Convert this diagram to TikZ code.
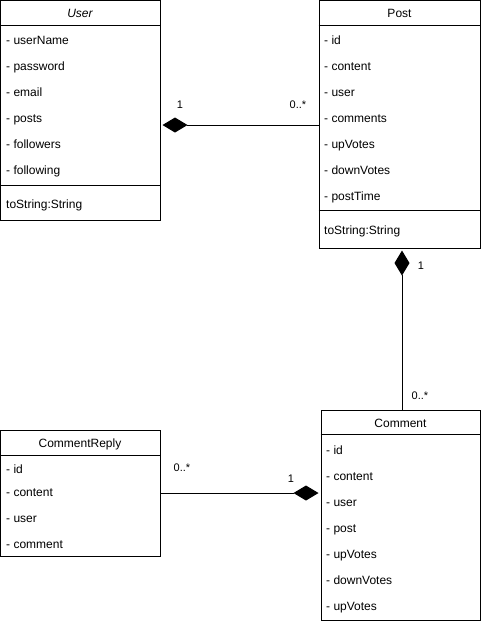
\documentclass[tikz,border=0pt]{standalone}
\usepackage{fontspec}
\setmainfont{Liberation Sans}
\usetikzlibrary{arrows.meta}
\begin{document}
\begin{tikzpicture}[x=1pt,y=-1pt,
  classbox/.style={draw=black, line width=1pt, inner sep=0pt, rectangle},
  attr/.style={anchor=base west, inner sep=0pt, font=\fontsize{12}{14}\selectfont},
  head/.style={anchor=base, inner sep=0pt, font=\fontsize{12}{14}\selectfont},
  mult/.style={anchor=base, inner sep=0pt, font=\fontsize{11}{13}\selectfont},
  comp/.style={draw=black, line width=1pt, -{Diamond[length=25pt,width=15pt,fill=black]}, shorten >=2pt}]
\useasboundingbox (0,0) rectangle (481,622);
% User
\node[classbox, minimum width=160pt, minimum height=220pt] (user) at (80,110) {};
\draw[line width=1pt] ([yshift=-26pt]user.north west) -- ([yshift=-26pt]user.north east);
\draw[line width=1pt] ([yshift=-186pt]user.north west) -- ([yshift=-186pt]user.north east);
\node[head, font=\fontsize{12}{14}\selectfont\itshape] (userh) at (80,17.5) {User};
\node[attr] (u1) at (6,44.5) {- userName};
\node[attr] (u2) at (6,70.5) {- password};
\node[attr] (u3) at (6,96) {- email};
\node[attr] (u4) at (6,122) {- posts};
\node[attr] (u5) at (6,148.5) {- followers};
\node[attr] (u6) at (6,174.5) {- following};
\node[attr] (u7) at (6,208.5) {toString:String};
% Post
\node[classbox, minimum width=161pt, minimum height=248pt] (post) at (399.5,124) {};
\draw[line width=1pt] ([yshift=-26pt]post.north west) -- ([yshift=-26pt]post.north east);
\draw[line width=1pt] ([yshift=-211pt]post.north west) -- ([yshift=-211pt]post.north east);
\node[head] (posth) at (399.5,17.5) {Post};
\node[attr] (p1) at (324,44.5) {- id};
\node[attr] (p2) at (324,70.5) {- content};
\node[attr] (p3) at (324,96) {- user};
\node[attr] (p4) at (324,122) {- comments};
\node[attr] (p5) at (324,148.5) {- upVotes};
\node[attr] (p6) at (324,174.5) {- downVotes};
\node[attr] (p7) at (324,200) {- postTime};
\node[attr] (p8) at (324,234.5) {toString:String};
% Comment
\node[classbox, minimum width=159pt, minimum height=210pt] (comment) at (400.5,515) {};
\draw[line width=1pt] ([yshift=-25pt]comment.north west) -- ([yshift=-25pt]comment.north east);
\node[head] (commenth) at (400.5,427.5) {Comment};
\node[attr] (c1) at (326,454.5) {- id};
\node[attr] (c2) at (326,480.5) {- content};
\node[attr] (c3) at (326,506.5) {- user};
\node[attr] (c4) at (326,532.5) {- post};
\node[attr] (c5) at (326,558.5) {- upVotes};
\node[attr] (c6) at (326,584.5) {- downVotes};
\node[attr] (c7) at (326,610.5) {- upVotes};
% CommentReply
\node[classbox, minimum width=160pt, minimum height=126pt] (reply) at (80,493) {};
\draw[line width=1pt] ([yshift=-26pt]reply.north west) -- ([yshift=-26pt]reply.north east);
\node[head] (replyh) at (80,447.5) {CommentReply};
\node[attr] (r1) at (6,473) {- id};
\node[attr] (r2) at (6,496.5) {- content};
\node[attr] (r3) at (6,522.5) {- user};
\node[attr] (r4) at (6,548.5) {- comment};
% connectors
\coordinate (y1) at (0,125);
\coordinate (x2) at (402,0);
\coordinate (y3) at (0,493);
\draw[comp] (post.west |- y1) -- (user.east |- y1);
\draw[comp] (comment.north -| x2) -- (post.south -| x2);
\draw[comp] (reply.east |- y3) -- (comment.west |- y3);
% multiplicities
\node[mult] (m1) at (180,108) {1};
\node[mult] (m2) at (298,108) {0..*};
\node[mult] (m3) at (421,269) {1};
\node[mult] (m4) at (420,399) {0..*};
\node[mult] (m5) at (182,471) {0..*};
\node[mult] (m6) at (291,482) {1};
\end{tikzpicture}
\end{document}
